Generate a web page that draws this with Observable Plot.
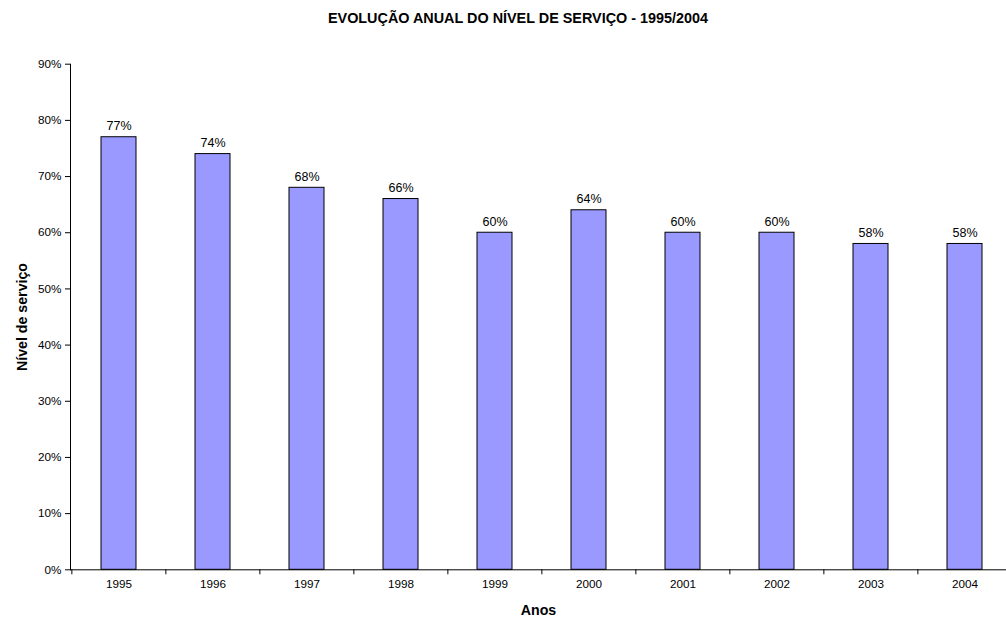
<!DOCTYPE html>
<html>
<head>
<meta charset="utf-8">
<script src="https://cdn.jsdelivr.net/npm/d3@7"></script>
<script src="https://cdn.jsdelivr.net/npm/@observablehq/plot@0.6"></script>
<style>
  html, body { margin: 0; padding: 0; background: #fff; overflow: hidden; }
  body { width: 1006px; height: 619px; position: relative; font-family: "Liberation Sans", Arial, sans-serif; }
  #title { position: absolute; top: 11px; left: 518px; transform: translateX(-50%); white-space: nowrap;
           font-size: 14.4px; line-height: 14px; font-weight: bold; color: #000; z-index: 2; }
  #chart { position: absolute; top: 0; left: 0; }
</style>
</head>
<body>
<div id="title">EVOLUÇÃO ANUAL DO NÍVEL DE SERVIÇO - 1995/2004</div>
<div id="chart"></div>
<script>
const years = ["1995","1996","1997","1998","1999","2000","2001","2002","2003","2004"];
const values = [0.77, 0.74, 0.68, 0.66, 0.60, 0.64, 0.60, 0.60, 0.58, 0.58];
const yTicks = [0, 0.1, 0.2, 0.3, 0.4, 0.5, 0.6, 0.7, 0.8, 0.9];
const yLabel = "Nível de serviço";
const xLabel = "Anos";

const data = years.map((y, i) => ({year: y, value: values[i]}));

const W = 1006, H = 619;
const mL = 70, mT = 63.7, mB = 49.7;
const xRange = [70, 1012.6];
const bw = (xRange[1] - xRange[0]) / years.length;
const plotH = H - mT - mB;
const font = '"Liberation Sans", Arial, sans-serif';

const chart = Plot.plot({
  width: W, height: H,
  marginLeft: mL, marginTop: mT, marginBottom: mB, marginRight: 0,
  style: {fontFamily: font, fontSize: "11.7px", color: "#000", background: "transparent", overflow: "visible"},
  x: {domain: years, range: xRange, paddingInner: 0.63, paddingOuter: 0.315, align: 0.5},
  y: {domain: [0, 0.9]},
  marks: [
    Plot.barY(data, {x: "year", y: "value", fill: "#9999FF", stroke: "#000", strokeWidth: 1}),
    Plot.text(data, {x: "year", y: "value", text: d => Math.round(d.value * 100) + "%",
      dy: -7, lineAnchor: "bottom", fontSize: 12.5, fill: "#000"}),
    Plot.axisY({ticks: yTicks, tickFormat: d => Math.round(d * 100) + "%", tickSize: 5, tickPadding: 4,
      label: yLabel, labelAnchor: "center", labelArrow: "none", labelOffset: 54,
      fontSize: 11.7}),
    Plot.axisX({tickSize: 0, tickPadding: 10, label: xLabel, labelAnchor: "center", labelArrow: "none",
      labelOffset: 45, fontSize: 11.7}),
    Plot.ruleX(years, {x: d => d, dx: -bw / 2, insetTop: plotH, insetBottom: -5, stroke: "#000"}),
    Plot.frame({anchor: "left", stroke: "#000"}),
    Plot.frame({anchor: "bottom", stroke: "#000"})
  ]
});
// bold axis titles
chart.querySelectorAll("g[aria-label='y-axis label'] text, g[aria-label='x-axis label'] text").forEach(t => {
  t.setAttribute("font-weight", "bold");
  t.setAttribute("font-size", "14.2");
});
document.getElementById("chart").appendChild(chart);
</script>
</body>
</html>
